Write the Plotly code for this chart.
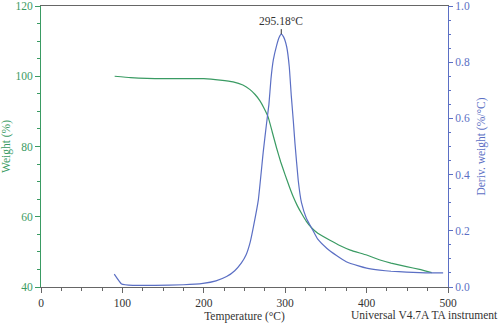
import plotly.graph_objects as go

# TGA weight curve (left axis)
temp_w = [90.5, 110, 130, 150, 175, 200, 220, 236, 248, 256.8, 263, 269, 274, 279.2, 284,
          289.5, 294.5, 299.8, 305, 310, 315, 320, 326, 332.6, 340, 355, 367, 380, 400,
          416.5, 430, 449, 465, 480]
weight = [100, 99.6, 99.4, 99.3, 99.3, 99.3, 98.9, 98.4, 97.5, 96.2, 94.8, 93.0, 90.9, 88.3, 84.2,
          79.5, 75.6, 72.0, 68.6, 65.6, 63.1, 61.0, 58.7, 56.8, 55.3, 53.3, 51.8, 50.5, 49.1,
          47.7, 46.8, 45.8, 45.0, 44.1]

# DTG derivative curve (right axis)
temp_d = [90, 99, 113, 140, 175, 199, 215, 228, 238, 246, 252, 257, 261, 267, 273, 277, 280,
          282.5, 285.4, 289.5, 292.5, 295.18, 298, 301.8, 305, 307.5, 310, 312, 316, 320, 326,
          332.6, 340, 351, 363, 375, 390, 400, 416, 430, 449, 465, 480, 494]
deriv = [0.046, 0.011, 0.006, 0.006, 0.008, 0.013, 0.022, 0.037, 0.058, 0.085, 0.115, 0.16, 0.215,
         0.31, 0.48, 0.58, 0.65, 0.74, 0.808, 0.86, 0.888, 0.90, 0.89, 0.855, 0.784, 0.68,
         0.59, 0.511, 0.38, 0.30, 0.245, 0.209, 0.17, 0.138, 0.112, 0.09, 0.075, 0.067, 0.06,
         0.056, 0.053, 0.051, 0.05, 0.05]

peak_temp = 295.18
peak_val = 0.90
peak_label = "295.18°C"

GREEN = "#3a9b63"
BLUE = "#5b6fc4"
FONT = "Liberation Serif"

fig = go.Figure()
fig.add_trace(go.Scatter(x=temp_w, y=weight, mode="lines", line=dict(color=GREEN, width=1.2, shape="spline", smoothing=0.35),
                         yaxis="y", showlegend=False, hoverinfo="skip"))
fig.add_trace(go.Scatter(x=temp_d, y=deriv, mode="lines", line=dict(color=BLUE, width=1.2, shape="spline", smoothing=0.35),
                         yaxis="y2", showlegend=False, hoverinfo="skip"))

fig.update_layout(
    width=500, height=323,
    margin=dict(l=41, r=52, t=6, b=36, autoexpand=False),
    plot_bgcolor="white", paper_bgcolor="white",
    font=dict(family=FONT, size=11.5, color="#333"),
    xaxis=dict(range=[0, 500], tickvals=[0, 100, 200, 300, 400, 500], showgrid=False, zeroline=False,
               automargin=False,
               showline=True, linecolor="#666", linewidth=1, mirror=True,
               ticks="outside", ticklen=5, tickcolor="#666",
               minor=dict(dtick=25, ticks="outside", ticklen=3, tickcolor="#666"),
               tickfont=dict(size=11.5, color="#333"),
               title=dict(text="Temperature (°C)", font=dict(size=11.5, color="#333"), standoff=6)),
    yaxis=dict(range=[40, 120], tickvals=[40, 60, 80, 100, 120], showgrid=False, zeroline=False,
               automargin=False,
               showline=True, linecolor=GREEN, linewidth=1,
               ticks="outside", ticklen=5, tickcolor=GREEN,
               minor=dict(dtick=5, ticks="outside", ticklen=3, tickcolor=GREEN),
               tickfont=dict(size=11.5, color=GREEN),
               title=dict(text="Weight (%)", font=dict(size=11.5, color=GREEN), standoff=6)),
    yaxis2=dict(range=[0, 1], tickvals=[0, 0.2, 0.4, 0.6, 0.8, 1.0], tickformat=".1f",
                overlaying="y", side="right", showgrid=False, zeroline=False,
                automargin=False,
                showline=True, linecolor=BLUE, linewidth=1,
                ticks="outside", ticklen=4, tickcolor=BLUE,
                minor=dict(dtick=0.05, ticks="outside", ticklen=2, tickcolor=BLUE),
                tickfont=dict(size=11.5, color=BLUE),
                title=dict(text="Deriv. weight (%/°C)", font=dict(size=11.5, color=BLUE), standoff=8)),
)

fig.add_annotation(x=peak_temp, y=peak_val, xref="x", yref="y2", text=peak_label,
                   showarrow=True, arrowhead=0, arrowwidth=1, arrowcolor="#333",
                   ax=0, ay=-5, yanchor="bottom", font=dict(size=11.5, color="#333"))
fig.add_annotation(x=1, y=0, xref="paper", yref="paper", xanchor="right", yanchor="top",
                   xshift=52, yshift=-20, text="Universal V4.7A TA instrument", showarrow=False,
                   font=dict(size=11.5, color="#333"))

fig.write_html("out.html")
